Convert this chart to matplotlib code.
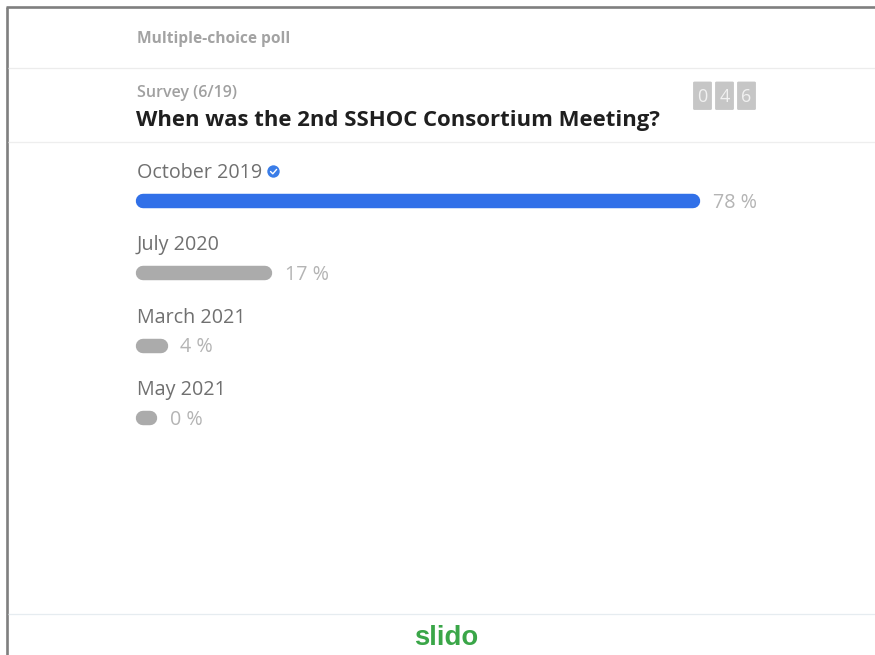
import matplotlib
matplotlib.use("Agg")
import matplotlib.pyplot as plt
from matplotlib.patches import Circle, FancyBboxPatch

W, H = 875, 655

# --- data ---
options = ["October 2019", "July 2020", "March 2021", "May 2021"]
percents = [78, 17, 4, 0]
# drawn bar lengths (percent-scale units; bars have a minimum width)
bar_lengths = [78.0, 18.8, 4.4, 3.0]
bar_colors = ["#3170e8", "#ababab", "#ababab", "#ababab"]
vote_digits = ["0", "4", "6"]
poll_type = "Multiple-choice poll"
survey_label = "Survey (6/19)"
question = "When was the 2nd SSHOC Consortium Meeting?"
brand = "slido"

plt.rcParams["font.family"] = ["Open Sans", "DejaVu Sans"]
fig = plt.figure(figsize=(W / 100, H / 100), dpi=100, facecolor="white")

# layout axes in pixel coordinates
ax = fig.add_axes([0, 0, 1, 1])
ax.set_xlim(0, W)
ax.set_ylim(H, 0)
ax.axis("off")

# frame
ax.plot([6.9, 6.9], [H, 6.9], color="#7f7f7f", lw=1.9, solid_capstyle="butt")
ax.plot([6.0, W], [6.9, 6.9], color="#7f7f7f", lw=1.9, solid_capstyle="butt")

# separators
for y, c in [(68.0, "#ececec"), (142.0, "#eeeeee"), (614.0, "#e6ecf0")]:
    ax.plot([8, W], [y, y], color=c, lw=0.9, solid_capstyle="butt")

# header
ax.text(137, 39, poll_type, fontsize=11.2, fontweight="bold", color="#a3a3a3", va="center", ha="left")
ax.text(137, 93, survey_label, fontsize=11.5, fontweight="semibold", color="#a0a0a0", va="center", ha="left")
ax.text(136, 120.8, question, fontsize=15.9, fontweight="bold", color="#1f1f1f", va="center", ha="left")

# vote counter
for x0, d in zip([692.5, 714.5, 736.5], vote_digits):
    ax.add_patch(FancyBboxPatch((x0 + 1, 82), 18, 27.5, boxstyle="round,pad=0,rounding_size=1",
                                fc="#c6c6c6", ec="#c6c6c6", lw=0.6))
    ax.text(x0 + 10, 97, d, fontsize=13, color="#f1f1f1", va="center", ha="center")

# bars on their own scale
k = 7.23  # pixels per percent
row = 72.33
bar_ax = fig.add_axes([0, 0, 1, 1], facecolor="none")
bar_ax.set_xlim(-136 / k, (W - 136) / k)
bar_ax.set_ylim((H - 201) / row, -201 / row)
bar_ax.axis("off")
cap = 1.0
for i, (name, pct, length, col) in enumerate(zip(options, percents, bar_lengths, bar_colors)):
    bar_ax.hlines(i, cap, length - cap, color=col, lw=10.4, capstyle="round")
    bar_ax.annotate(f"{pct} %", xy=(length + 1.75, i), xytext=(0, -1.2), textcoords="offset points",
                    fontsize=14.2, color="#b4b4b4", va="center", ha="left")
    bar_ax.annotate(name, xy=(0, i), xytext=(0.7, 20.2), textcoords="offset points",
                    fontsize=14.2, color="#707070", va="center", ha="left")

# correct-answer badge
ax.add_patch(Circle((273.5, 171.5), 6.2, fc="#3a7de8", ec="none"))
ax.plot([270.5, 272.8, 276.6], [171.5, 173.8, 169.4], color="white", lw=1.0,
        solid_capstyle="round", solid_joinstyle="round")

# brand
ax.text(446.5, 638, brand, fontsize=19.8, fontweight="bold", color="#3aa648", va="center", ha="center",
        family=["Liberation Sans", "DejaVu Sans"])

fig.savefig("out.png", dpi=100)
